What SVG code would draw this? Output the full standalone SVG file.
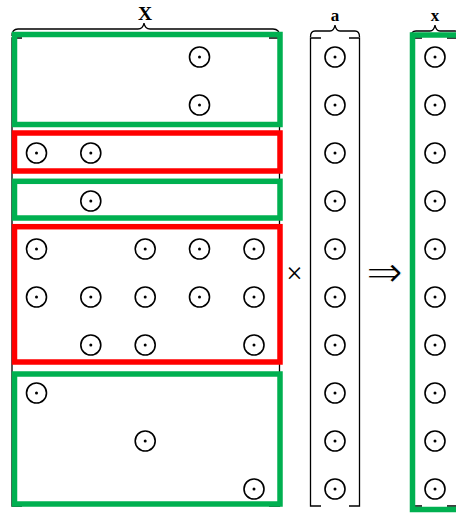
<svg xmlns="http://www.w3.org/2000/svg" width="456" height="515" viewBox="0 0 456 515">
<style>
.c{fill:none;stroke:#000;stroke-width:1.6}
.d{fill:#000}
.br{fill:none;stroke:#000;stroke-width:1.3}
.g{fill:none;stroke:#00B050;stroke-width:5.5}
.r{fill:none;stroke:#FF0000;stroke-width:5.5}
.lbl{font-family:"Liberation Serif",serif;font-weight:bold;font-size:17px;text-anchor:middle}
</style>
<defs>
<g id="o"><circle class="c" r="10"/><circle class="d" r="1.5"/></g>
</defs>
<rect width="456" height="515" fill="#fff"/>
<g id="matrixX">
<path class="br" d="M12,36 Q12,29 18,29 L138,29 Q143,29 144,23 Q145,29 150,29 L273,29 Q279.5,29 279.5,36"/>
<text class="lbl" x="145" y="19.5" style="font-size:19.5px">X</text>
<path class="br" d="M22,38 L12,38 L12,506 L22,506 M269,38 L279.5,38 L279.5,506 L269,506"/>
<use href="#o" x="199.5" y="57"/>
<use href="#o" x="199.5" y="105"/>
<use href="#o" x="36.5" y="153"/><use href="#o" x="90.8" y="153"/>
<use href="#o" x="90.8" y="201"/>
<use href="#o" x="36.5" y="249"/><use href="#o" x="145.2" y="249"/><use href="#o" x="199.5" y="249"/><use href="#o" x="254" y="249"/>
<use href="#o" x="36.5" y="297"/><use href="#o" x="90.8" y="297"/><use href="#o" x="145.2" y="297"/><use href="#o" x="199.5" y="297"/><use href="#o" x="254" y="297"/>
<use href="#o" x="90.8" y="345"/><use href="#o" x="145.2" y="345"/><use href="#o" x="254" y="345"/>
<use href="#o" x="36.5" y="393"/>
<use href="#o" x="145.2" y="441"/>
<use href="#o" x="254" y="489"/>
<rect class="g" x="14.5" y="34.5" width="265.5" height="90"/>
<rect class="r" x="14.5" y="133" width="265.5" height="38"/>
<rect class="g" x="14.5" y="181.3" width="265.5" height="36.7"/>
<rect class="r" x="14.5" y="226.7" width="265.5" height="135.3"/>
<rect class="g" x="14.5" y="374" width="265.5" height="130"/>
</g>
<g id="times"><text x="294.5" y="283" font-family="Liberation Serif, serif" font-size="29" text-anchor="middle">×</text></g>
<g id="vectorA">
<path class="br" d="M310.5,37 Q310.5,31 315,31 L330,31 Q334,31 335,25 Q336,31 340,31 L355,31 Q359.5,31 359.5,37"/>
<text class="lbl" x="335" y="21">a</text>
<path class="br" d="M321,38 L310.5,38 L310.5,506 L321,506 M349,38 L359.5,38 L359.5,506 L349,506"/>
<use href="#o" x="335" y="57"/><use href="#o" x="335" y="105"/><use href="#o" x="335" y="153"/><use href="#o" x="335" y="201"/><use href="#o" x="335" y="249"/>
<use href="#o" x="335" y="297"/><use href="#o" x="335" y="345"/><use href="#o" x="335" y="393"/><use href="#o" x="335" y="441"/><use href="#o" x="335" y="489"/>
</g>
<g id="implies"><text x="0" y="0" transform="translate(384.5,287) scale(1.3,1.3)" font-family="DejaVu Sans, sans-serif" font-size="34" text-anchor="middle" stroke="#fff" stroke-width="0.8">⇒</text></g>
<g id="vectorx">
<path class="br" d="M411,37 Q411,31 416,31 L430,31 Q434,31 435,25 Q436,31 440,31 L455,31 Q460,31 460,37"/>
<text class="lbl" x="435" y="21">x</text>
<path class="br" d="M422,38 L412,38 L412,506 L422,506 M447,38 L458,38 L458,506 L447,506"/>
<use href="#o" x="435" y="57"/><use href="#o" x="435" y="105"/><use href="#o" x="435" y="153"/><use href="#o" x="435" y="201"/><use href="#o" x="435" y="249"/>
<use href="#o" x="435" y="297"/><use href="#o" x="435" y="345"/><use href="#o" x="435" y="393"/><use href="#o" x="435" y="441"/><use href="#o" x="435" y="489"/>
<rect class="g" x="412.5" y="35" width="47" height="474.5"/>
</g>
</svg>
